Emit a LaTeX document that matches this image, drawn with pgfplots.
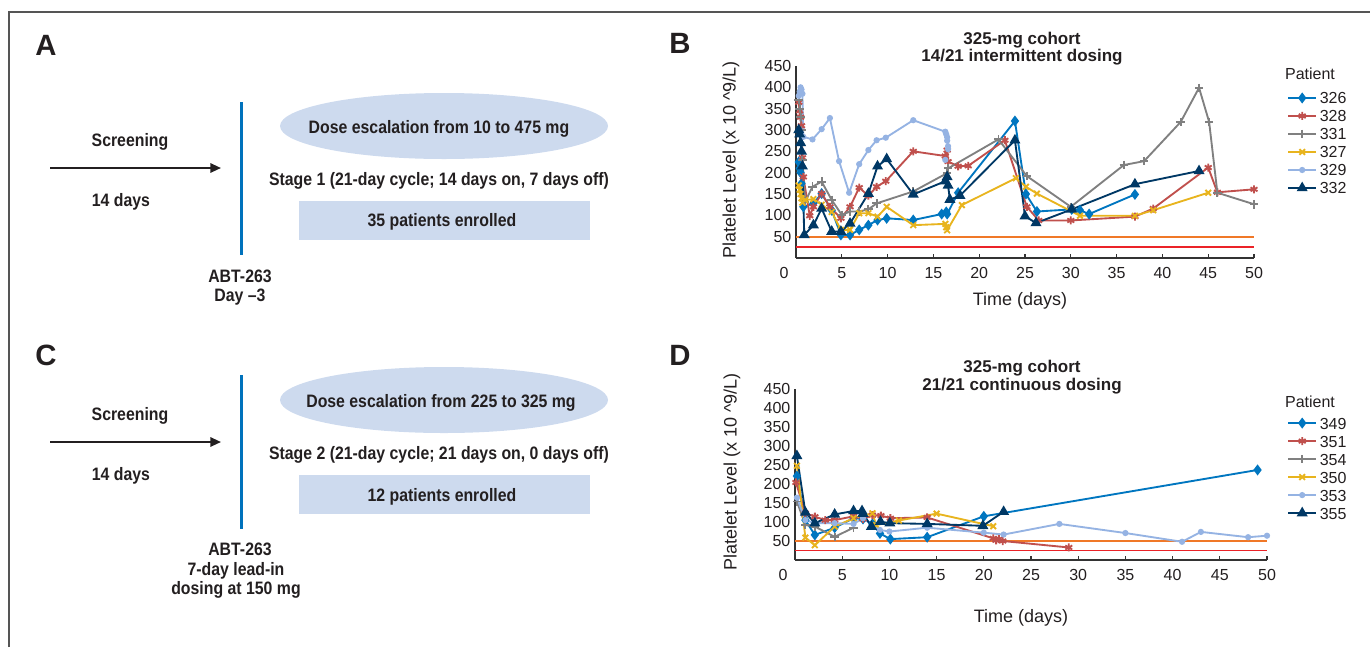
\documentclass[border=0pt]{standalone}
\usepackage{fontspec}
\setmainfont{Liberation Sans}
\newfontfamily\cond[FakeStretch=0.88]{Liberation Sans}
\usepackage{pgfplots}
\pgfplotsset{compat=1.18}
\usetikzlibrary{arrows.meta}

\definecolor{cBlue}{RGB}{0,118,192}
\definecolor{cRed}{RGB}{192,80,77}
\definecolor{cGray}{RGB}{128,128,128}
\definecolor{cYel}{RGB}{232,180,30}
\definecolor{cLight}{RGB}{149,179,227}
\definecolor{cNavy}{RGB}{0,56,101}
\definecolor{cOrange}{RGB}{240,120,40}
\definecolor{cThr}{RGB}{235,35,40}
\definecolor{boxfill}{RGB}{205,218,238}
\definecolor{vline}{RGB}{0,114,188}
\definecolor{framec}{RGB}{85,85,85}
\definecolor{txt}{RGB}{35,31,32}

\pgfplotsset{
  platelet/.style={
    scale only axis, xmin=0, xmax=50, ymin=0, ymax=450,
    axis lines*=left, axis line style={black!80, line width=1.1pt},
    xtick={5,10,...,50}, ytick={50,100,...,450},
    ytick style={draw=none}, xtick style={black!80, line width=0.8pt},
    tick align=inside, major tick length=3pt,
    extra x ticks={0},
    extra x tick style={major tick length=0pt, xticklabel style={xshift=-9pt}},
    tick label style={font=\fontsize{12}{14}\selectfont, text=txt},
    /pgf/number format/assume math mode=true,
    xticklabel style={yshift=-3.5pt},
    legend cell align=left,
    legend style={draw=none, fill=none, anchor=north west, text=txt,
      font=\fontsize{12}{14}\selectfont, row sep=4.5pt, column sep=2pt,
      nodes={inner sep=0pt, text height=9pt, text depth=0pt}},
    legend image code/.code={\draw[mark repeat=2,mark phase=2,#1]
      plot coordinates {(0pt,0pt)(10.5pt,0pt)(21pt,0pt)};},
    every axis plot/.append style={line width=1.4pt},
  },
  s1/.style={cBlue, mark=diamond*, mark size=3pt},
  s2/.style={cRed, mark=asterisk, mark size=3pt},
  s3/.style={cGray, mark=+, mark size=3.2pt},
  s4/.style={cYel, mark=x, mark size=3pt},
  s5/.style={cLight, mark=*, mark size=1.6pt},
  s6/.style={cNavy, mark=triangle*, mark size=3.4pt},
  thr/.style={line width=1.3pt, no marks, forget plot},
}

\begin{document}
\begin{tikzpicture}
\useasboundingbox (0pt,0pt) rectangle (1027.5pt,-485.25pt);
\begin{scope}[x=0.75pt,y=-0.75pt,
  lt/.style={font=\cond\bfseries\fontsize{13.5}{16}\selectfont, text=txt},
  pl/.style={font=\bfseries\fontsize{22}{26}\selectfont, text=txt},
  tt/.style={font=\bfseries\fontsize{12.75}{15}\selectfont, text=txt},
  al/.style={font=\fontsize{13.5}{16}\selectfont, text=txt}]
  % frame
  \draw[framec, line width=1.5pt] (9,647) -- (9,12) -- (1370,12);
  % panel A
  \node[pl] at (46,45) {A};
  \draw[txt, line width=1.5pt, -{Triangle[length=8pt,width=7pt]}] (50,168) -- (221,168);
  \node[lt] at (130,142) {Screening};
  \node[lt] at (121,202) {14 days};
  \draw[vline, line width=2.25pt] (241,102) -- (241,255);
  \node[lt] at (240,276) {ABT-263};
  \node[lt] at (240,297) {Day \textendash3};
  \fill[boxfill] (444,126) ellipse [x radius=164, y radius=33];
  \node[lt] at (439,129) {Dose escalation from 10 to 475 mg};
  \node[lt] at (439,181) {Stage 1 (21-day cycle; 14 days on, 7 days off)};
  \fill[boxfill] (299,201) rectangle (590,240);
  \node[lt] at (442,222) {35 patients enrolled};
  % panel C
  \node[pl] at (46,355) {C};
  \draw[txt, line width=1.5pt, -{Triangle[length=8pt,width=7pt]}] (50,442) -- (221,442);
  \node[lt] at (130,416) {Screening};
  \node[lt] at (121,476) {14 days};
  \draw[vline, line width=2.25pt] (241,375) -- (241,529);
  \node[lt] at (240,549) {ABT-263};
  \node[lt] at (236,571) {7-day lead-in};
  \node[lt] at (236,590) {dosing at 150 mg};
  \fill[boxfill] (444,400) ellipse [x radius=164, y radius=33];
  \node[lt] at (441,403) {Dose escalation from 225 to 325 mg};
  \node[lt] at (439,455) {Stage 2 (21-day cycle; 21 days on, 0 days off)};
  \fill[boxfill] (299,475) rectangle (590,514);
  \node[lt] at (442,497) {12 patients enrolled};
  % panel B labels
  \node[pl] at (680,43) {B};
  \node[tt] at (1022,40) {325-mg cohort};
  \node[tt] at (1022,57) {14/21 intermittent dosing};
  \node[al, rotate=90] at (731,160) {Platelet Level (x 10 \textasciicircum9/L)};
  \node[al] at (1020,301) {Time (days)};
  \node[font=\fontsize{12}{14}\selectfont, text=txt] at (1310,74) {Patient};
  % panel D labels
  \node[pl] at (680,355) {D};
  \node[tt] at (1022,368) {325-mg cohort};
  \node[tt] at (1022,386) {21/21 continuous dosing};
  \node[al, rotate=90] at (732,472) {Platelet Level (x 10 \textasciicircum9/L)};
  \node[al] at (1021,618) {Time (days)};
  \node[font=\fontsize{12}{14}\selectfont, text=txt] at (1310,402) {Patient};
\end{scope}

\begin{axis}[platelet, at={(597pt,-193.5pt)}, anchor=south west,
  width=343.5pt, height=144pt, legend style={at={(1.0633,0.880)}}]
\addplot[thr, cOrange] coordinates {(0,50)(50,50)};
\addplot[thr, cThr] coordinates {(0,25)(50,25)};
\addplot[s1] coordinates {(0.3,225)(0.4,210)(0.5,200)(0.6,175)(0.8,120)(1.9,128)(2.8,151)(3.9,112)(4.9,54)(5.9,54)(6.9,66)(7.9,77)(8.9,89)(9.9,93)(12.8,89)(15.9,103)(16.4,108)(16.5,103)(17.7,153)(23.9,321)(25.1,150)(26.3,109)(30.1,114)(31.0,112)(32,103)(37,149)};
\addlegendentry{326}
\addplot[s2] coordinates {(0.3,365)(0.4,345)(0.5,330)(0.6,310)(0.7,235)(0.8,190)(1.5,99)(1.9,120)(2.8,151)(3.7,120)(4.9,93)(5.9,120)(6.9,165)(7.9,146)(8.8,167)(9.8,180)(12.8,250)(16.3,239)(16.5,253)(16.6,226)(17.7,215)(18.8,216)(22.8,276)(25.2,120)(26.5,88)(30,88)(37,97)(39,116)(45,212)(46,154)(50,161)};
\addlegendentry{328}
\addplot[s3] coordinates {(0.3,370)(0.4,350)(0.5,330)(0.6,300)(0.7,230)(1.0,132)(1.8,167)(2.8,179)(3.9,136)(5.0,101)(5.9,109)(6.9,109)(7.9,114)(8.8,128)(12.8,156)(16.5,199)(16.6,210)(22.1,278)(25.2,192)(30,120)(35.8,218)(38,227)(42,319)(44,399)(45.1,319)(46,153)(50,126)};
\addlegendentry{331}
\addplot[s4] coordinates {(0.3,170)(0.4,160)(0.5,150)(0.6,140)(0.7,130)(1.0,136)(1.9,138)(2.8,125)(3.9,108)(4.9,66)(5.9,66)(6.9,105)(7.9,105)(8.9,97)(9.9,120)(12.8,77)(16.3,80)(16.4,72)(16.5,65)(18.1,124)(24,187)(25.1,167)(26.3,151)(31,99)(37,99)(39,112)(45,153)};
\addlegendentry{327}
\addplot[s5] coordinates {(0.3,380)(0.4,390)(0.5,400)(0.6,395)(0.7,385)(0.8,284)(1.8,278)(2.8,302)(3.7,328)(4.7,227)(5.8,153)(6.9,220)(7.9,253)(8.8,276)(9.8,282)(12.8,323)(16.3,296)(16.4,290)(16.5,283)(16.5,275)(16.6,262)(16.6,255)(16.3,230)};
\addlegendentry{329}
\addplot[s6] coordinates {(0.3,300)(0.4,290)(0.5,270)(0.6,250)(0.7,215)(0.9,54)(1.9,77)(2.8,116)(3.9,62)(4.9,62)(5.9,81)(7.9,151)(8.9,215)(9.9,232)(12.8,149)(16.3,180)(16.5,190)(16.6,170)(16.8,137)(17.9,146)(23.9,276)(25.0,98)(26.2,82)(30.1,114)(37,173)(44,204)};
\addlegendentry{332}
\end{axis}

\begin{axis}[platelet, at={(596.25pt,-420pt)}, anchor=south west,
  width=354pt, height=128.25pt, legend style={at={(1.0339,0.853)}}]
\addplot[thr, cOrange] coordinates {(0,50)(50,50)};
\addplot[thr, cThr] coordinates {(0,25)(50,25)};
\addplot[s1] coordinates {(0.2,221)(1.1,105)(2.1,66)(4.2,85)(6.2,110)(7.2,108)(8.2,95)(9.0,70)(10.1,55)(14,60)(20,115)(49,237)};
\addlegendentry{349}
\addplot[s2] coordinates {(0.1,204)(1.1,123)(2.1,114)(3.2,105)(4.2,105)(6.2,115)(7.2,108)(8.2,118)(9.1,117)(10.1,110)(14,112)(21,57)(21.3,52)(21.6,55)(22,50)(29,33)};
\addlegendentry{351}
\addplot[s3] coordinates {(0.2,154)(1.1,92)(2.1,88)(4.2,61)(6.2,85)};
\addlegendentry{354}
\addplot[s4] coordinates {(0.2,248)(1.1,59)(2.1,39)(4.2,88)(6.2,110)(8.2,123)(8.6,92)(11,104)(15,122)(21,89)};
\addlegendentry{350}
\addplot[s5] coordinates {(0.2,164)(1.1,105)(2.1,97)(4.2,97)(6.2,95)(7.2,110)(9.0,79)(10,75)(14,85)(20,72)(22.1,67)(28,95)(35,71)(41,48)(43,74)(48,60)(50,64)};
\addlegendentry{353}
\addplot[s6] coordinates {(0.2,274)(1.1,125)(2.1,97)(4.2,120)(6.2,129)(7.1,129)(7.2,122)(8.1,88)(9.05,101)(10.05,97)(14,95)(19.9,90)(22.1,127)};
\addlegendentry{355}
\end{axis}
\end{tikzpicture}
\end{document}
